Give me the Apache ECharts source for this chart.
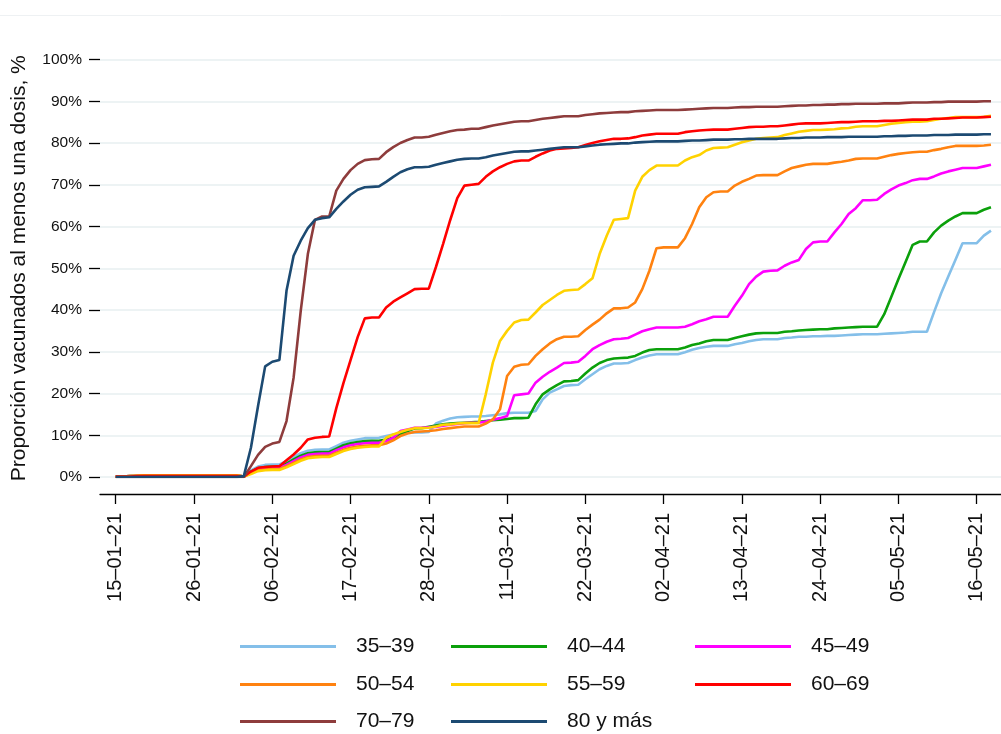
<!DOCTYPE html>
<html>
<head>
<meta charset="utf-8">
<script src="https://cdn.jsdelivr.net/npm/echarts@6/dist/echarts.min.js"></script>
<style>
  html, body { margin: 0; padding: 0; background: #fff; }
  #chart { width: 1001px; height: 734px; }
</style>
</head>
<body>
<div id="chart"></div>
<script>
// Day 0 = 15-01-2021, one value per day up to 18-05-2021 (124 days)
const startDate = Date.UTC(2021, 0, 15);
const dates = [];
for (let i = 0; i < 124; i++) {
  const d = new Date(startDate + i * 86400000);
  const dd = String(d.getUTCDate()).padStart(2, '0');
  const mm = String(d.getUTCMonth() + 1).padStart(2, '0');
  dates.push(dd + '–' + mm + '–21');
}
const tickDays = [0, 11, 22, 33, 44, 55, 66, 77, 88, 99, 110, 121];

const seriesNames = ['35–39', '40–44', '45–49', '50–54', '55–59', '60–69', '70–79', '80 y más'];
const seriesColors = ['#84bfe9', '#0ba00b', '#ff00ff', '#ff8210', '#ffd200', '#ff0000', '#8e3c3c', '#1c4a72'];

const v35_39 = [0.1,0.1,0.2,0.3,0.4,0.4,0.4,0.4,0.4,0.4,0.4,0.4,0.4,0.4,0.4,0.4,0.4,0.4,
  0.1,
  1.6,2.5,2.9,3.0,3.0,3.8,4.8,5.7,6.3,6.5,6.6,6.6,7.4,8.2,8.7,9.0,9.3,9.3,9.4,
  9.8,10.2,10.5,10.6,10.7,10.7,10.8,
  12.8,13.5,14.0,14.3,14.4,14.5,14.5,
  14.6,14.8,15.0,15.3,15.4,15.4,15.4,
  15.8,18.6,20.2,21.0,21.8,22.0,22.1,
  23.4,24.6,25.8,26.6,27.2,27.2,27.3,
  28.0,28.6,29.1,29.4,29.4,29.4,29.4,
  29.9,30.5,30.9,31.2,31.4,31.4,31.4,
  31.8,32.1,32.5,32.8,33.0,33.0,33.0,
  33.3,33.4,33.6,33.6,33.7,33.7,33.8,
  33.8,33.9,34.0,34.1,34.2,34.2,34.2,
  34.3,34.4,34.5,34.6,34.8,34.8,34.8,
  39.5,44.0,48.0,52.0,56.0,56.0,56.0,
  57.8,59.0];

const v40_44 = [0.1,0.1,0.2,0.3,0.4,0.4,0.4,0.4,0.4,0.4,0.4,0.4,0.4,0.4,0.4,0.4,0.4,0.4,
  0.1,
  1.3,2.1,2.4,2.5,2.5,3.2,4.2,5.1,5.7,5.9,6.0,6.0,6.8,7.6,8.1,8.4,8.6,8.7,8.7,
  9.0,9.4,10.2,11.0,11.6,11.7,12.0,
  12.3,12.6,12.8,12.9,13.0,13.1,13.2,
  13.4,13.6,13.7,13.9,14.1,14.1,14.2,
  17.4,19.8,21.0,22.0,22.9,23.0,23.2,
  24.8,26.2,27.3,28.0,28.4,28.5,28.6,
  29.0,29.8,30.4,30.6,30.6,30.6,30.6,
  31.0,31.6,32.0,32.5,32.8,32.8,32.8,
  33.3,33.7,34.1,34.4,34.5,34.5,34.5,
  34.8,34.9,35.1,35.2,35.3,35.4,35.4,
  35.6,35.7,35.8,35.9,36.0,36.0,36.0,
  39.0,43.2,47.4,51.5,55.6,56.4,56.4,
  58.6,60.2,61.4,62.4,63.2,63.2,63.2,
  64.0,64.6];

const v45_49 = [0.1,0.1,0.2,0.3,0.4,0.4,0.4,0.4,0.4,0.4,0.4,0.4,0.4,0.4,0.4,0.4,0.4,0.4,
  0.1,
  1.1,1.9,2.1,2.2,2.2,2.9,3.8,4.7,5.3,5.5,5.6,5.6,6.4,7.1,7.6,7.9,8.1,8.2,8.2,
  8.6,9.4,11.0,11.4,11.8,11.8,11.9,
  12.0,12.3,12.5,12.7,12.9,13.0,13.0,
  13.3,13.7,14.1,14.6,19.6,19.8,20.0,
  22.6,24.0,25.2,26.2,27.3,27.4,27.6,
  29.0,30.6,31.6,32.4,33.0,33.1,33.3,
  34.1,34.9,35.4,35.8,35.8,35.8,35.8,
  36.0,36.6,37.3,37.8,38.4,38.4,38.4,
  41.0,43.4,46.2,48.0,49.2,49.4,49.5,
  50.6,51.4,52.0,54.6,56.2,56.4,56.4,
  58.6,60.6,63.0,64.4,66.3,66.3,66.4,
  67.8,68.9,69.8,70.4,71.1,71.4,71.4,
  72.0,72.7,73.2,73.6,74.0,74.0,74.0,
  74.4,74.8];

const v50_54 = [0.1,0.1,0.2,0.3,0.4,0.4,0.4,0.4,0.4,0.4,0.4,0.4,0.4,0.4,0.4,0.4,0.4,0.4,
  0.1,
  0.9,1.6,1.8,1.9,1.9,2.6,3.4,4.2,4.8,5.0,5.1,5.1,5.8,6.5,7.0,7.3,7.5,7.6,7.6,
  8.0,8.8,9.8,10.4,10.8,10.9,11.0,
  11.2,11.5,11.7,11.9,12.1,12.1,12.1,
  12.8,13.8,16.2,24.2,26.4,26.9,27.0,
  29.0,30.6,32.0,33.0,33.6,33.6,33.7,
  35.2,36.5,37.7,39.2,40.4,40.4,40.6,
  41.8,45.0,49.4,54.8,55.0,55.0,55.0,
  57.2,60.6,64.6,67.0,68.2,68.4,68.4,
  69.8,70.7,71.4,72.2,72.3,72.3,72.3,
  73.2,74.0,74.4,74.8,75.0,75.0,75.0,
  75.3,75.5,75.8,76.2,76.3,76.3,76.3,
  76.7,77.1,77.4,77.6,77.8,77.9,77.9,
  78.3,78.6,79.0,79.3,79.3,79.3,79.3,
  79.4,79.6];

const v55_59 = [0.1,0.1,0.2,0.3,0.4,0.4,0.4,0.4,0.4,0.4,0.4,0.4,0.4,0.4,0.4,0.4,0.4,0.4,
  0.1,
  0.7,1.4,1.6,1.7,1.7,2.3,3.1,3.9,4.5,4.7,4.8,4.8,5.5,6.2,6.7,7.0,7.2,7.3,7.3,
  9.4,10.2,10.8,11.3,11.7,11.7,11.8,
  12.1,12.5,12.6,12.8,12.9,12.9,12.9,
  19.8,27.4,32.6,35.0,37.0,37.6,37.7,
  39.4,41.2,42.4,43.6,44.6,44.8,44.9,
  46.2,47.6,53.4,57.8,61.6,61.8,62.0,
  68.6,71.9,73.5,74.6,74.6,74.6,74.6,
  75.8,76.6,77.1,78.2,78.8,78.9,79.0,
  79.6,80.2,80.6,81.0,81.2,81.3,81.4,
  81.9,82.3,82.7,82.9,83.1,83.1,83.2,
  83.3,83.5,83.6,83.9,84.0,84.0,84.0,
  84.3,84.6,84.8,85.0,85.1,85.1,85.2,
  85.5,85.8,86.0,86.2,86.2,86.2,86.2,
  86.3,86.5];

const v60_69 = [0.1,0.1,0.1,0.2,0.3,0.3,0.3,0.3,0.3,0.3,0.3,0.3,0.3,0.3,0.3,0.3,0.3,0.3,
  0.05,
  1.3,2.2,2.4,2.5,2.6,4.0,5.4,7.0,9.0,9.4,9.6,9.7,16.5,22.5,28.0,33.5,38.0,38.2,38.2,
  40.6,42.0,43.0,44.0,45.0,45.1,45.1,
  50.3,55.8,61.5,66.8,69.8,70.0,70.2,
  71.9,73.2,74.2,75.0,75.6,75.8,75.8,
  76.7,77.5,78.2,78.6,78.7,78.8,79.0,
  79.5,80.0,80.4,80.7,81.0,81.0,81.1,
  81.4,81.8,82.0,82.2,82.2,82.2,82.2,
  82.6,82.8,83.0,83.1,83.2,83.2,83.2,
  83.4,83.6,83.8,83.9,83.9,84.0,84.0,
  84.2,84.4,84.6,84.7,84.7,84.7,84.8,
  84.9,85.0,85.0,85.1,85.2,85.2,85.2,
  85.3,85.3,85.4,85.5,85.6,85.6,85.6,
  85.8,85.8,85.9,86.0,86.1,86.1,86.1,
  86.2,86.3];

const v70_79 = [0,0,0,0,0,0,0,0,0,0,0,0,0,0,0,0,0,0,
  0,
  2.6,5.3,7.2,8.0,8.4,13.4,23.8,39.8,53.4,61.6,62.4,62.4,68.6,71.4,73.5,75.0,75.9,76.1,76.2,
  77.8,79.0,80.0,80.7,81.3,81.3,81.5,
  82.0,82.4,82.8,83.1,83.2,83.4,83.4,
  83.8,84.2,84.5,84.8,85.1,85.2,85.2,
  85.5,85.8,86.0,86.2,86.4,86.4,86.4,
  86.7,86.9,87.1,87.2,87.3,87.4,87.4,
  87.6,87.7,87.8,87.9,87.9,87.9,87.9,
  88.0,88.1,88.2,88.3,88.4,88.4,88.4,
  88.5,88.6,88.6,88.7,88.7,88.7,88.7,
  88.8,88.9,89.0,89.0,89.1,89.1,89.2,
  89.2,89.3,89.3,89.4,89.4,89.4,89.4,
  89.5,89.5,89.5,89.6,89.7,89.7,89.7,
  89.8,89.8,89.9,89.9,89.9,89.9,89.9,
  90.0,90.0];

const v80mas = [0,0,0,0,0,0,0,0,0,0,0,0,0,0,0,0,0,0,
  0.2,
  7.0,17.0,26.5,27.6,28.0,44.6,53.0,56.6,59.6,61.6,62.0,62.2,64.2,66.0,67.6,68.8,69.4,69.5,69.6,
  70.7,71.9,73.0,73.7,74.2,74.2,74.3,
  74.8,75.2,75.6,76.0,76.2,76.3,76.3,
  76.6,77.0,77.3,77.6,77.9,78.0,78.0,
  78.2,78.4,78.6,78.8,79.0,79.0,79.0,
  79.2,79.4,79.6,79.7,79.8,79.9,79.9,
  80.1,80.2,80.3,80.4,80.4,80.4,80.4,
  80.5,80.6,80.6,80.7,80.8,80.8,80.8,
  80.9,80.9,81.0,81.0,81.0,81.0,81.0,
  81.1,81.2,81.2,81.3,81.3,81.3,81.4,
  81.4,81.4,81.5,81.5,81.5,81.5,81.5,
  81.6,81.6,81.7,81.7,81.8,81.8,81.8,
  81.9,81.9,81.9,82.0,82.0,82.0,82.0,
  82.1,82.1];

const allValues = [v35_39, v40_44, v45_49, v50_54, v55_59, v60_69, v70_79, v80mas];

const FONT = '"Liberation Sans", Arial, Helvetica, sans-serif';

const chart = echarts.init(document.getElementById('chart'), null, { renderer: 'canvas' });

const series = seriesNames.map((name, k) => ({
  name: name,
  type: 'line',
  symbol: 'none',
  showSymbol: false,
  data: allValues[k].map((v, i) => [i, v]),
  lineStyle: { color: seriesColors[k], width: 2.6 },
  itemStyle: { color: seriesColors[k] },
  emphasis: { disabled: true },
  animation: false,
  z: 2 + k
}));

// legend layout: 3 columns x 3 rows
const legendCols = [240, 451, 695];
const legendRows = [648, 686, 723];
const legends = seriesNames.map((name, k) => ({
  show: true,
  data: [name],
  left: legendCols[k % 3],
  top: legendRows[Math.floor(k / 3)] - 12,
  padding: 0,
  icon: 'rect',
  itemWidth: 96,
  itemHeight: 3,
  itemGap: 0,
  selectedMode: false,
  textStyle: { fontFamily: FONT, fontSize: 21, color: '#111', padding: [0, 0, 0, 15] }
}));

const option = {
  backgroundColor: '#ffffff',
  animation: false,
  grid: { left: 100, right: 0, top: 59.5, bottom: 257, containLabel: false },
  xAxis: {
    type: 'value',
    min: -2.21,
    max: 124.41,
    offset: 17,
    splitLine: { show: false },
    axisLine: { show: true, onZero: false, lineStyle: { color: '#000', width: 1.3 } },
    axisTick: { show: true, length: 10, lineStyle: { color: '#000', width: 1.3 }, customValues: tickDays },
    axisLabel: {
      show: true,
      rotate: 90,
      margin: 19,
      fontFamily: FONT,
      fontSize: 20,
      color: '#111',
      customValues: tickDays,
      formatter: (v) => dates[Math.round(v)]
    }
  },
  yAxis: {
    type: 'value',
    min: 0,
    max: 100,
    interval: 10,
    name: 'Proporción vacunados al menos una dosis, %',
    nameLocation: 'middle',
    nameGap: 70,
    nameTextStyle: { fontFamily: FONT, fontSize: 21, color: '#111' },
    axisLine: { show: false, onZero: false },
    axisTick: { show: true, length: 11, lineStyle: { color: '#000', width: 1.3 } },
    axisLabel: { fontFamily: FONT, fontSize: 15.5, color: '#111', margin: 18, formatter: '{value}%' },
    splitLine: { show: true, lineStyle: { color: '#e7eff1', width: 1.6 } }
  },
  legend: legends,
  graphic: [
    { type: 'line', shape: { x1: 0, y1: 15.5, x2: 1001, y2: 15.5 }, style: { stroke: '#eef1f3', lineWidth: 1 }, silent: true }
  ],
  series: series
};

chart.setOption(option);
</script>
</body>
</html>
